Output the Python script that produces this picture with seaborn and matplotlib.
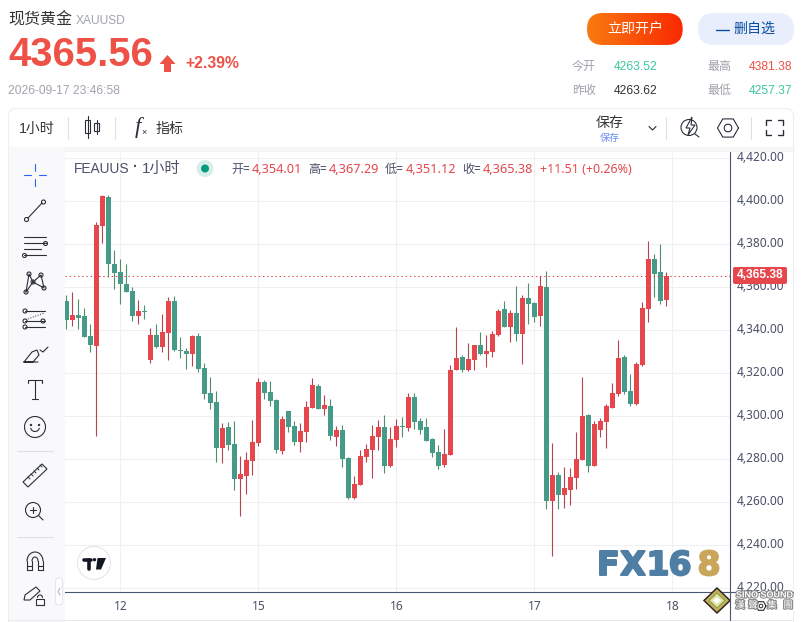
import numpy as np
import pandas as pd
import matplotlib
matplotlib.use('Agg')
import matplotlib.pyplot as plt
import matplotlib.patheffects as pe
from matplotlib.patches import Circle, FancyBboxPatch, Polygon, Rectangle
from matplotlib.ticker import FuncFormatter
from matplotlib.transforms import ScaledTranslation
import seaborn as sns

# candle values, hourly, oldest first
opens = [4353.6, 4344.8, 4347.1, 4346.7, 4337.4, 4332.7, 4388.5, 4402.0, 4370.9, 4367.1,
         4361.6, 4358.3, 4346.7, 4349.0, 4326.2, 4337.8, 4332.3, 4338.8, 4353.6, 4330.9,
         4330.4, 4329.0, 4337.4, 4322.5, 4310.9, 4306.7, 4285.3, 4295.1, 4287.2, 4270.9,
         4272.3, 4279.2, 4287.6, 4316.0, 4311.3, 4307.6, 4283.9, 4302.5, 4295.5, 4288.1,
         4292.7, 4303.9, 4314.1, 4303.4, 4304.8, 4290.4, 4293.6, 4280.6, 4262.0, 4268.1,
         4281.1, 4284.3, 4290.4, 4295.0, 4276.9, 4289.0, 4295.5, 4294.6, 4309.0, 4297.8,
         4295.0, 4289.5, 4283.4, 4277.4, 4282.0, 4321.6, 4327.6, 4321.6, 4326.2, 4333.2,
         4329.0, 4330.0, 4337.8, 4349.9, 4341.6, 4348.1, 4338.3, 4355.0, 4352.7, 4346.7,
         4360.2, 4260.6, 4272.7, 4263.4, 4265.8, 4271.3, 4279.7, 4300.6, 4276.9, 4293.7,
         4297.4, 4303.9, 4310.4, 4327.6, 4311.8, 4305.8, 4323.9, 4349.9, 4373.2, 4367.1,
         4354.01]
highs = [4356.4, 4357.8, 4354.6, 4350.4, 4343.0, 4390.4, 4402.9, 4402.9, 4377.4, 4373.2,
         4370.9, 4360.2, 4354.1, 4351.8, 4341.1, 4343.0, 4347.6, 4355.5, 4356.0, 4336.9,
         4331.8, 4337.8, 4338.8, 4324.8, 4318.3, 4311.8, 4296.9, 4297.4, 4297.9, 4281.6,
         4283.4, 4298.3, 4317.8, 4316.9, 4316.4, 4308.1, 4300.2, 4302.5, 4297.8, 4296.9,
         4307.1, 4317.8, 4315.0, 4309.9, 4308.1, 4295.5, 4296.0, 4281.1, 4272.3, 4284.3,
         4287.1, 4296.0, 4298.3, 4300.6, 4295.0, 4298.8, 4299.7, 4310.9, 4310.9, 4299.2,
         4299.2, 4290.0, 4286.7, 4294.1, 4323.9, 4341.6, 4328.5, 4334.1, 4333.2, 4339.2,
         4337.8, 4339.7, 4349.9, 4353.6, 4349.5, 4360.6, 4356.4, 4362.0, 4353.2, 4365.3,
         4367.6, 4287.6, 4274.1, 4276.5, 4276.0, 4292.7, 4318.3, 4301.1, 4297.8, 4299.2,
         4305.8, 4315.5, 4335.5, 4328.5, 4319.7, 4325.3, 4353.2, 4381.6, 4375.5, 4380.2,
         4367.29]
lows = [4340.6, 4342.0, 4340.6, 4336.9, 4329.9, 4290.9, 4380.6, 4364.8, 4359.2, 4352.3,
        4357.8, 4344.4, 4343.0, 4345.3, 4324.8, 4331.8, 4329.9, 4326.2, 4330.4, 4327.1,
        4322.0, 4323.4, 4320.6, 4308.1, 4303.4, 4278.8, 4278.3, 4284.4, 4265.8, 4253.7,
        4263.9, 4272.7, 4286.2, 4308.1, 4304.8, 4283.0, 4282.5, 4292.7, 4286.7, 4283.4,
        4288.1, 4303.9, 4303.4, 4300.6, 4289.0, 4286.2, 4276.4, 4261.6, 4261.6, 4268.1,
        4278.8, 4271.3, 4284.3, 4273.7, 4276.4, 4285.7, 4290.4, 4293.2, 4294.1, 4291.8,
        4288.5, 4281.1, 4275.5, 4276.4, 4282.0, 4321.6, 4320.6, 4321.1, 4321.6, 4328.5,
        4323.0, 4327.6, 4337.4, 4341.6, 4334.6, 4335.0, 4324.3, 4343.0, 4343.9, 4342.0,
        4256.9, 4235.1, 4256.9, 4257.4, 4258.8, 4266.2, 4279.7, 4274.1, 4276.9, 4290.4,
        4285.3, 4303.9, 4309.5, 4310.4, 4304.8, 4305.3, 4323.4, 4343.9, 4355.5, 4352.3,
        4351.12]
closes = [4344.8, 4347.1, 4345.7, 4336.9, 4333.2, 4389.0, 4402.5, 4370.9, 4366.7, 4361.6,
          4357.8, 4346.7, 4349.0, 4348.5, 4337.8, 4332.3, 4339.2, 4353.6, 4330.9, 4330.4,
          4329.0, 4337.4, 4322.0, 4310.4, 4306.2, 4285.3, 4294.6, 4286.7, 4270.9, 4273.2,
          4279.7, 4288.1, 4316.0, 4310.9, 4307.1, 4284.4, 4298.8, 4295.0, 4288.1, 4293.2,
          4304.3, 4314.6, 4303.4, 4305.3, 4290.9, 4293.6, 4280.2, 4262.0, 4268.5, 4281.6,
          4284.8, 4290.9, 4295.0, 4276.9, 4289.5, 4295.5, 4295.0, 4309.0, 4297.4, 4293.6,
          4288.5, 4283.0, 4276.9, 4282.5, 4321.6, 4327.1, 4321.6, 4326.7, 4333.2, 4329.0,
          4330.4, 4338.3, 4349.0, 4341.6, 4348.1, 4338.3, 4355.0, 4352.2, 4346.2, 4360.6,
          4260.6, 4272.7, 4263.4, 4266.7, 4271.8, 4280.2, 4300.2, 4276.9, 4296.5, 4297.8,
          4304.8, 4310.9, 4327.1, 4311.3, 4305.8, 4324.4, 4350.4, 4373.2, 4366.2, 4353.6,
          4365.38]

day_pos = [9, 32, 55, 78, 101]
day_labels = ['12', '15', '16', '17', '18']
price_ticks = list(range(4220, 4421, 20))
last_price = 4365.38

RED = '#e5474c'
GREEN = '#459a88'
RED_WICK = '#b8414f'
GREEN_WICK = '#4e8f6b'
SLATE = '#4a5068'
INK = '#2a2e39'
QUOTE_RED = '#ee5145'
QUOTE_GREEN = '#3cc6a0'
GREY = '#a0a3ad'

sns.set_theme(style='white')
plt.rcParams['font.family'] = ['Liberation Sans', 'Noto Sans CJK SC']

df = pd.DataFrame({'i': range(len(opens)), 'open': opens, 'high': highs,
                   'low': lows, 'close': closes})
df['body'] = (df['close'] - df['open']).abs()
df['bottom'] = df[['open', 'close']].min(axis=1)
up = df[df['close'] >= df['open']]
down = df[df['close'] < df['open']]

W, H = 803, 622
fig = plt.figure(figsize=(W / 100, H / 100), dpi=100, facecolor='white')

# ==========================================
# Candle panel
# ==========================================
left, right, top, bottom = 65, 729.7, 152, 592.3
ax = fig.add_axes([left / W, 1 - bottom / H, (right - left) / W, (bottom - top) / H], zorder=2)

ax.vlines(up['i'], up['low'], up['high'], color=RED_WICK, linewidth=0.8, zorder=2)
ax.vlines(down['i'], down['low'], down['high'], color=GREEN_WICK, linewidth=0.8, zorder=2)
for part, color in [(up, RED), (down, GREEN)]:
    sns.barplot(data=part, x='i', y='body', bottom=part['bottom'].values, native_scale=True,
                color=color, saturation=1, width=0.87, errorbar=None, linewidth=0,
                zorder=3, ax=ax)

ax.axhline(last_price, color='#d9454c', linewidth=0.72, linestyle=(0, (1.4, 2.8)), zorder=4)

ax.set_xlim(-0.22, 110.56)
ax.set_ylim(4218.1, 4422.9)
ax.set_xlabel('')
ax.set_ylabel('')
ax.set_xticks(day_pos, day_labels)
ax.set_yticks(price_ticks)
ax.yaxis.set_major_formatter(FuncFormatter(lambda v, _: f'{v:,.2f}'))
ax.yaxis.tick_right()
ax.tick_params(axis='y', length=0, pad=4.8, labelsize=8.6, labelcolor=SLATE)
ax.tick_params(axis='x', length=0, pad=5.5, labelsize=8.6, labelcolor=SLATE)
up_2px = ScaledTranslation(0, 2 / 100, fig.dpi_scale_trans)
for lab in ax.get_yticklabels():
    lab.set_family(['Noto Sans'])
    lab.set_transform(lab.get_transform() + up_2px)
for lab in ax.get_xticklabels():
    lab.set_family(['Noto Sans'])
    lab.set_fontweight('medium')
ax.grid(True, color='#f0f0f3', linewidth=0.8)
ax.set_axisbelow(True)
for side in ['left', 'top']:
    ax.spines[side].set_visible(False)
for side in ['right', 'bottom']:
    ax.spines[side].set_color('#4a5570')
    ax.spines[side].set_linewidth(0.8)

# ==========================================
# Page chrome, in pixel coordinates
# ==========================================
pg = fig.add_axes([0, 0, 1, 1], zorder=3)
pg.set_xlim(0, W)
pg.set_ylim(H, 0)
pg.axis('off')
pg.patch.set_alpha(0)


def put(x, y, s, size=12, color=INK, ha='left', weight='normal', family=None, **kw):
    # size is given in pixels, as on the web page
    return pg.text(x, y, s, fontsize=size * 0.72, color=color, ha=ha, va='center',
                   fontweight=weight, family=family or ['Liberation Sans', 'Noto Sans CJK SC'], **kw)


def stroke(xs, ys, color=INK, lw=0.8, **kw):
    pg.plot(xs, ys, color=color, linewidth=lw, solid_capstyle='round', **kw)


def ring(x, y, r, color=INK, lw=0.8, face='none'):
    pg.add_patch(Circle((x, y), r, edgecolor=color, facecolor=face, linewidth=lw))


# quote header
put(8, 20, '现货黄金', 16, '#333333')
put(76, 20.5, 'XAUUSD', 12, GREY)
put(8, 55, '4365.56', 40, QUOTE_RED, weight='bold')
pg.add_patch(Polygon([(167.5, 55), (175.5, 64), (171, 64), (171, 72), (164, 72), (164, 64), (159.5, 64)],
                     facecolor=QUOTE_RED, edgecolor='none'))
put(185, 64, '+2.39%', 15.8, QUOTE_RED, weight='bold')
put(8, 90.5, '2026-09-17 23:46:58', 12, GREY)

# buttons
btn = FancyBboxPatch((587, 13), 95.7, 32, boxstyle='round,pad=0,rounding_size=16',
                     facecolor='none', edgecolor='none')
pg.add_patch(btn)
grad = np.array([[[0.98, 0.48 - 0.32 * t, 0.07 - 0.07 * t] for t in np.linspace(0, 1, 96)]])
im = pg.imshow(grad, extent=(587, 682.7, 45, 13), aspect='auto', zorder=1)
im.set_clip_path(btn)
pg.set_xlim(0, W)
pg.set_ylim(H, 0)
put(634.8, 29, '立即开户', 14, 'white', ha='center', zorder=2)
pg.add_patch(FancyBboxPatch((698, 13), 96, 32, boxstyle='round,pad=0,rounding_size=16',
                            facecolor='#e8eefc', edgecolor='none'))
stroke([716, 729], [30, 30], '#0b4fa0', 1.0)
put(733, 29, '删自选', 14, '#0b4fa0')

# day stats
put(572, 67, '今开', 12, GREY)
put(614, 67, '4263.52', 12, QUOTE_GREEN)
put(707, 67, '最高', 12, GREY)
put(749, 67, '4381.38', 12, QUOTE_RED)
put(572, 91, '昨收', 12, GREY)
put(614, 91, '4263.62', 12, '#333333')
put(707, 91, '最低', 12, GREY)
put(749, 91, '4257.37', 12, QUOTE_GREEN)

# chart frame, toolbar and tool column
pg.add_patch(FancyBboxPatch((8.5, 108.5), 785, 540, boxstyle='round,pad=0,rounding_size=8',
                            facecolor='none', edgecolor='#eceef2', linewidth=0.8))
pg.add_patch(Rectangle((9, 147), 784, 5, facecolor='#f6f6f8', edgecolor='none'))
pg.add_patch(Rectangle((9, 147), 56, H - 147, facecolor='#f9f9fb', edgecolor='none'))
pg.add_patch(Rectangle((9, 619.5), 785, 1, facecolor='#e8e8f0', edgecolor='none'))
stroke([729.7, 729.7], [592, 620], '#4a5570')
stroke([729.7, 793], [592.3, 592.3], '#4a5570')
for sx in [68.5, 115.5, 666.5, 751.5]:
    stroke([sx, sx], [117, 139], '#dde0e6')

put(37, 129, '1小时', 14, '#333333', ha='center')
# candle glyph
for cx, (y0, y1), (w0, w1) in [(88, (116, 138), (120, 133)), (97, (120, 134), (123, 131))]:
    stroke([cx, cx], [y0, y1], INK)
    pg.add_patch(Rectangle((cx - 2.5, w0), 5, w1 - w0, facecolor='white', edgecolor=INK, linewidth=0.8))
put(138, 127.5, 'f', 23, INK, ha='center', style='italic', family=['Liberation Serif'])
put(144, 133, '×', 9, INK, ha='center')
put(156, 129, '指标', 14, '#333333')

put(609.5, 123, '保存', 14, '#333333', ha='center')
put(609.5, 138, '保存', 10, '#6a8cf0', ha='center')
stroke([649, 652.5, 656], [126.5, 130, 126.5], INK)
# lightning lens
ring(689, 127.5, 8)
stroke([695, 699], [134, 137])
pg.add_patch(Polygon([(692, 117), (686, 128), (690, 128), (688, 135), (695, 125), (691, 125)],
                     facecolor='white', edgecolor=INK, linewidth=0.8))
# settings hexagon
hex_x = 728 + 10.5 * np.cos(np.arange(7) * np.pi / 3)
hex_y = 128 + 10.5 * np.sin(np.arange(7) * np.pi / 3)
stroke(hex_x, hex_y)
ring(728, 128, 3.8)
# fullscreen corners
for cx, cy, dx, dy in [(766, 120, 1, 1), (783, 120, -1, 1), (766, 135, 1, -1), (783, 135, -1, -1)]:
    stroke([cx + 5 * dx, cx, cx], [cy, cy, cy + 5 * dy], INK, 1.0)

# legend line above the candles
put(74, 169, 'FEAUUS', 13.8, SLATE)
put(133.5, 167, '·', 14, SLATE, weight='bold')
put(142, 169, '1小时', 15, SLATE)
ring(205, 168.5, 8.5, 'none', 0, '#d8efe9')
ring(205, 168.5, 4, 'none', 0, '#089981')
NOTO = ['Noto Sans', 'Noto Sans CJK SC']
for x0, lab, val in [(231, '开=', '4,354.01'), (308, '高=', '4,367.29'),
                     (385, '低=', '4,351.12'), (462, '收=', '4,365.38')]:
    put(x0, 169.5, lab, 12, SLATE, family=NOTO)
    put(x0 + 20.5, 169.5, val, 12.8, RED, family=NOTO)
put(540, 169.5, '+11.51 (+0.26%)', 12.4, RED, family=NOTO)

# last price tag
pg.add_patch(FancyBboxPatch((733, 267), 54, 17, boxstyle='round,pad=0,rounding_size=2',
                            facecolor=RED, edgecolor='none'))
put(760, 275.5, '4,365.38', 12, 'white', ha='center', weight='bold')

# left tool icons
stroke([24, 31], [175, 175], '#2962ff')
stroke([39, 46], [175, 175], '#2962ff')
stroke([35, 35], [164, 171], '#2962ff')
stroke([35, 35], [179, 186], '#2962ff')

stroke([28, 42], [218, 203])
ring(26.5, 219.5, 2, face='white')
ring(43.5, 202, 2, face='white')

for ly, x1 in [(237, 46), (243, 46), (249, 41), (255, 46)]:
    stroke([24, x1], [ly, ly])
ring(45.5, 243.5, 2, face='white')
ring(24.5, 255.5, 2, face='white')

pts = [(26, 292), (29, 274), (33, 282), (41, 275), (44, 288)]
stroke([26, 29, 33, 26], [292, 274, 282, 292])
stroke([33, 41, 44, 33], [282, 275, 288, 282])
for px, py in pts:
    ring(px, py, 2, face='white')

for ly in [311, 321, 327]:
    stroke([25, 45], [ly, ly])
stroke([28, 44], [319, 313], INK, 0.7, linestyle=':')
for px, py in [(25, 311), (25, 321), (43, 321), (25, 327)]:
    ring(px, py, 2, face='white')

stroke([24, 32, 37, 39, 33, 24, 38], [362, 352, 350, 355, 362, 362, 362])
stroke([40, 43, 48], [350, 352, 347])

stroke([35, 35], [380, 399])
stroke([28, 28, 42, 42], [383, 380, 380, 383])
stroke([32, 38], [399, 399])

ring(35, 427, 10.5)
ring(31, 425, 0.7, INK, 0.7, INK)
ring(39, 425, 0.7, INK, 0.7, INK)
stroke(35 + 4.5 * np.cos(np.linspace(0.3, 2.85, 12)), 427 + 4.5 * np.sin(np.linspace(0.3, 2.85, 12)))

for sy in [451, 537]:
    stroke([17, 53], [sy, sy], '#dfe0ea')

pg.add_patch(Polygon([(23, 482), (42, 464), (47, 469), (28, 487)], facecolor='none', edgecolor=INK, linewidth=0.8))
for k in range(5):
    stroke([28 + 3 * k, 30 + 3 * k], [477 - 3 * k, 479 - 3 * k], INK, 0.7)

ring(33, 510, 7.5)
stroke([38.5, 43], [515.5, 520])
stroke([33, 33], [507, 513])
stroke([30, 36], [510, 510])

arc_t = np.linspace(np.pi, 2 * np.pi, 20)
stroke(35 + 8 * np.cos(arc_t), 561 + 9 * np.sin(arc_t))
stroke(35 + 3 * np.cos(arc_t), 561 + 4 * np.sin(arc_t))
stroke([27, 27, 32, 32], [561, 570, 570, 561])
stroke([38, 38, 43, 43], [561, 570, 570, 561])
stroke([27, 32], [566, 566])
stroke([38, 43], [566, 566])

pg.add_patch(Polygon([(24, 600), (25, 595), (36, 587), (40, 591), (30, 600)], facecolor='none',
                     edgecolor=INK, linewidth=0.8))
pg.add_patch(Rectangle((36, 599), 8, 6, facecolor='white', edgecolor=INK, linewidth=0.8))
stroke(40 + 2.5 * np.cos(arc_t), 597.5 + 2.5 * np.sin(arc_t))

pg.add_patch(FancyBboxPatch((55.5, 578), 7, 27, boxstyle='round,pad=0,rounding_size=3',
                            facecolor='white', edgecolor='#e6e6ee', linewidth=0.8))
stroke([60, 58, 60], [588, 591.5, 595], '#b5b8c2')

# watermarks
ring(94, 563, 16.5, '#e6e6e6', 0.8, 'white')
stroke([84, 91], [559.5, 559.5], '#131722', 2.6)
stroke([89, 89], [559.5, 569], '#131722', 2.6)
pg.add_patch(Polygon([(97.5, 558), (106, 558), (101, 569.5), (96, 569.5)], facecolor='#131722', edgecolor='none'))
ring(94.5, 559.7, 1.7, 'none', 0, '#131722')

for cx, ch, col in [(608, 'F', '#4f7ea4'), (633, 'X', '#4f7ea4'), (658, '1', '#4f7ea4'),
                    (680, '6', '#4f7ea4'), (709, '8', '#c9a65a')]:
    put(cx, 565.5, ch, 33, col, ha='center', weight='bold', family=['DejaVu Sans'],
        path_effects=[pe.withStroke(linewidth=1.4, foreground=col)])

pg.add_patch(Polygon([(717, 588), (730, 600.5), (717, 613), (704, 600.5)], facecolor='#c8b060',
                     edgecolor='#2c2a20', linewidth=1.1))
pg.add_patch(Polygon([(717, 593), (725, 600.5), (717, 608), (709, 600.5)], facecolor='#d9e6a8',
                     edgecolor='#8f9c45', linewidth=0.8))
pg.add_patch(Polygon([(717, 597), (721, 600.5), (717, 604), (713, 600.5)], facecolor='white',
                     edgecolor='none'))
halo = [pe.withStroke(linewidth=1.6, foreground='#8a8a8a')]
put(736, 595, 'SINO SOUND', 9, 'white', weight='bold', path_effects=halo)
for gx, ch in zip([740, 753, 772, 788], '漢聲集團'):
    put(gx, 605.5, ch, 9.5, 'white', ha='center', path_effects=halo)
mini_x = 761 + 5 * np.cos(np.arange(7) * np.pi / 3)
mini_y = 606 + 5 * np.sin(np.arange(7) * np.pi / 3)
stroke(mini_x, mini_y, '#2a2a2a', 0.8)
ring(761, 606, 1.8, '#2a2a2a', 0.7)

fig.savefig('out.png', dpi=100)
